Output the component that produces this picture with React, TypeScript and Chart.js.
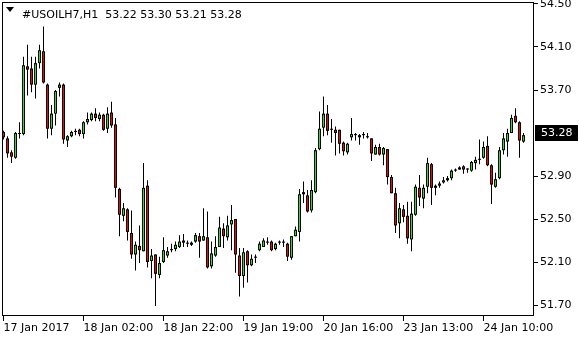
import React, { useEffect, useRef } from 'react';
import { Chart, registerables } from 'chart.js';

Chart.register(...registerables);

// ---- DATA (hourly candles, #USOILH7 H1) ----
const openP = [
  53.31, 53.25, 53.12, 53.07, 53.29, 53.29, 53.92, 53.90, 53.75, 53.95,
  54.06, 53.75, 53.34, 53.48, 53.72, 53.75, 53.23, 53.27, 53.31, 53.33,
  53.29, 53.40, 53.42, 53.48, 53.43, 53.47, 53.34, 53.49, 53.38, 52.78,
  52.53, 52.59, 52.37, 52.17, 52.25, 52.20, 52.81, 52.11, 52.17, 51.98,
  52.10, 52.16, 52.21, 52.22, 52.24, 52.30, 52.27, 52.26, 52.29, 52.34,
  52.30, 52.33, 52.06, 52.16, 52.24, 52.41, 52.33, 52.45, 52.50, 52.16,
  51.97, 52.20, 52.07, 52.14, 52.21, 52.24, 52.28, 52.29, 52.22, 52.28,
  52.28, 52.27, 52.14, 52.34, 52.38, 52.75, 52.72, 52.58, 52.75, 53.15,
  53.35, 53.48, 53.33, 53.33, 53.33, 53.21, 53.12, 53.26, 53.28, 53.28,
  53.28, 53.26, 53.25, 53.10, 53.17, 53.10, 53.15, 52.89, 52.74, 52.46,
  52.59, 52.53, 52.31, 52.54, 52.79, 52.69, 52.80, 53.01, 52.81, 52.81,
  52.84, 52.86, 52.88, 52.95, 52.96, 52.99, 52.96, 52.95, 53.02, 53.05,
  53.07, 53.18, 53.00, 52.80, 52.88, 53.14, 53.22, 53.30, 53.46, 53.40,
  53.22,
];
const highP = [
  53.32, 53.27, 53.14, 53.31, 53.40, 54.01, 54.12, 54.01, 54.01, 54.12,
  54.29, 53.76, 53.56, 53.70, 53.77, 53.76, 53.28, 53.32, 53.34, 53.34,
  53.41, 53.49, 53.49, 53.53, 53.49, 53.48, 53.54, 53.59, 53.44, 52.79,
  52.65, 52.60, 52.58, 52.29, 52.44, 53.02, 52.86, 52.22, 52.17, 52.15,
  52.33, 52.24, 52.27, 52.29, 52.35, 52.36, 52.30, 52.29, 52.37, 52.37,
  52.60, 52.57, 52.29, 52.34, 52.52, 52.46, 52.53, 52.63, 52.50, 52.23,
  52.23, 52.21, 52.17, 52.17, 52.29, 52.32, 52.33, 52.30, 52.28, 52.30,
  52.31, 52.28, 52.34, 52.43, 52.78, 52.85, 52.77, 52.86, 53.16, 53.50,
  53.64, 53.56, 53.43, 53.36, 53.33, 53.22, 53.21, 53.44, 53.30, 53.29,
  53.31, 53.30, 53.25, 53.19, 53.20, 53.17, 53.15, 52.91, 52.79, 52.65,
  52.63, 52.66, 52.66, 52.82, 52.91, 52.82, 53.07, 53.02, 52.82, 52.85,
  52.89, 52.90, 52.96, 52.97, 52.99, 53.00, 52.97, 53.04, 53.08, 53.24,
  53.22, 53.27, 53.01, 52.93, 53.17, 53.30, 53.34, 53.47, 53.53, 53.41,
  53.30,
];
const lowP = [
  53.24, 53.07, 53.02, 53.06, 53.25, 53.28, 53.65, 53.68, 53.62, 53.90,
  53.76, 53.25, 53.28, 53.37, 53.64, 53.20, 53.17, 53.26, 53.28, 53.27,
  53.25, 53.38, 53.41, 53.41, 53.41, 53.32, 53.30, 53.35, 52.70, 52.34,
  52.48, 52.30, 52.13, 52.02, 52.09, 52.20, 52.05, 51.95, 51.69, 51.95,
  52.09, 52.14, 52.19, 52.20, 52.23, 52.24, 52.24, 52.25, 52.28, 52.14,
  52.30, 52.04, 52.04, 52.15, 52.24, 52.23, 52.30, 52.21, 52.00, 51.78,
  51.86, 51.91, 52.06, 52.09, 52.20, 52.24, 52.26, 52.20, 52.21, 52.26,
  52.24, 52.11, 52.12, 52.34, 52.29, 52.65, 52.56, 52.56, 52.74, 53.14,
  53.27, 53.28, 53.21, 53.09, 53.11, 53.09, 53.10, 53.23, 53.23, 53.19,
  53.25, 53.25, 53.04, 53.10, 53.09, 53.00, 52.82, 52.74, 52.37, 52.32,
  52.47, 52.27, 52.20, 52.53, 52.62, 52.60, 52.74, 52.63, 52.72, 52.79,
  52.83, 52.85, 52.86, 52.94, 52.96, 52.92, 52.93, 52.94, 52.96, 53.01,
  53.06, 52.99, 52.64, 52.79, 52.87, 53.10, 53.08, 53.30, 53.39, 53.07,
  53.21,
];
const closeP = [
  53.26, 53.11, 53.08, 53.30, 53.30, 53.93, 53.89, 53.75, 53.95, 54.07,
  53.77, 53.34, 53.48, 53.69, 53.75, 53.24, 53.27, 53.31, 53.32, 53.29,
  53.40, 53.43, 53.48, 53.44, 53.47, 53.33, 53.48, 53.37, 52.79, 52.54,
  52.60, 52.38, 52.17, 52.26, 52.21, 52.79, 52.10, 52.16, 51.99, 52.09,
  52.21, 52.20, 52.22, 52.26, 52.29, 52.28, 52.28, 52.28, 52.35, 52.29,
  52.34, 52.05, 52.18, 52.24, 52.42, 52.34, 52.44, 52.49, 52.17, 51.97,
  52.19, 52.07, 52.13, 52.15, 52.27, 52.30, 52.29, 52.21, 52.27, 52.29,
  52.29, 52.15, 52.34, 52.40, 52.73, 52.73, 52.57, 52.77, 53.14, 53.34,
  53.48, 53.32, 53.34, 53.30, 53.20, 53.13, 53.20, 53.29, 53.29, 53.26,
  53.29, 53.27, 53.11, 53.17, 53.10, 53.16, 52.89, 52.74, 52.44, 52.60,
  52.52, 52.32, 52.55, 52.80, 52.70, 52.79, 53.02, 52.79, 52.79, 52.83,
  52.86, 52.88, 52.95, 52.96, 52.98, 52.96, 52.97, 53.03, 53.05, 53.06,
  53.17, 53.00, 52.82, 52.87, 53.14, 53.25, 53.30, 53.44, 53.40, 53.23,
  53.28,
];

const xTickIndex = [0, 20, 40, 60, 80, 100, 120];
const xTickLabels = [
  '17 Jan 2017',
  '18 Jan 02:00',
  '18 Jan 22:00',
  '19 Jan 19:00',
  '20 Jan 16:00',
  '23 Jan 13:00',
  '24 Jan 10:00',
];
const yTickValues = [54.5, 54.1, 53.7, 52.9, 52.5, 52.1, 51.7];
const symbolName = '#USOILH7,H1';

const FONT = "'DejaVu Sans', Verdana, sans-serif";

export default function App() {
  const canvasRef = useRef<HTMLCanvasElement | null>(null);
  const n = openP.length;
  const headerText = `${symbolName}  ${openP[n - 1].toFixed(2)} ${highP[n - 1].toFixed(2)} ${lowP[n - 1].toFixed(2)} ${closeP[n - 1].toFixed(2)}`;

  useEffect(() => {
    const canvas = canvasRef.current;
    if (!canvas) return;

    const bodies = openP.map((o, i) => ({ x: i, y: [o, closeP[i]] }));
    const wicks = lowP.map((l, i) => ({ x: i, y: [l, highP[i]] }));
    const bodyColors = openP.map((o, i) => (closeP[i] >= o ? '#00ff00' : '#ff0000'));
    const lastClose = closeP[n - 1];

    const framePlugin = {
      id: 'mtFrame',
      afterDraw(chart: any) {
        const { ctx, chartArea: a, scales } = chart;
        ctx.save();
        ctx.strokeStyle = '#000';
        ctx.lineWidth = 1;
        ctx.strokeRect(a.left + 0.5, a.top + 0.5, a.right - a.left - 1, a.bottom - a.top - 1);
        const yc = Math.round(scales.y.getPixelForValue(lastClose)) - 2;
        ctx.fillStyle = '#000';
        ctx.fillRect(a.right + 1, yc - 8, chart.width - a.right - 3, 16);
        ctx.fillStyle = '#fff';
        ctx.font = `11px ${FONT}`;
        ctx.textBaseline = 'middle';
        ctx.textAlign = 'left';
        ctx.fillText(lastClose.toFixed(2), a.right + 7, yc + 0.5);
        ctx.restore();
      },
    };

    const chart = new Chart(canvas, {
      type: 'bar',
      data: {
        datasets: [
          {
            label: 'bodyFill',
            data: bodies as any,
            backgroundColor: bodyColors,
            borderColor: '#000',
            borderWidth: { top: 1, bottom: 1, left: 0, right: 0 },
            borderSkipped: false,
            barThickness: 1,
            maxBarThickness: 1,
            inflateAmount: 0,
            grouped: false,
            order: 0,
          } as any,
          {
            label: 'bodyOutline',
            data: bodies as any,
            backgroundColor: '#000',
            borderWidth: 0,
            barThickness: 3,
            maxBarThickness: 3,
            inflateAmount: 0,
            minBarLength: 1,
            grouped: false,
            order: 1,
          } as any,
          {
            label: 'wick',
            data: wicks as any,
            backgroundColor: '#000',
            borderWidth: 0,
            barThickness: 1,
            maxBarThickness: 1,
            inflateAmount: 0,
            grouped: false,
            order: 2,
          } as any,
        ],
      },
      options: {
        animation: false,
        responsive: false,
        devicePixelRatio: 1,
        layout: { padding: { left: 2, top: 2, right: 0, bottom: 0 } },
        plugins: {
          legend: { display: false },
          tooltip: { enabled: false },
        },
        scales: {
          x: {
            type: 'linear',
            position: 'bottom',
            min: -0.375,
            max: 132.625,
            offset: false,
            grid: {
              display: true,
              offset: false,
              drawOnChartArea: false,
              drawTicks: true,
              tickLength: 5,
              color: '#000',
              lineWidth: 1,
            },
            border: { display: false },
            ticks: {
              autoSkip: false,
              maxRotation: 0,
              minRotation: 0,
              align: 'start',
              padding: 1,
              color: '#000',
              font: { family: FONT, size: 11 },
              callback: (v: any) => {
                const k = xTickIndex.indexOf(Number(v));
                return k >= 0 ? xTickLabels[k] : '';
              },
            },
            afterBuildTicks: (scale: any) => {
              scale.ticks = xTickIndex.map((v) => ({ value: v }));
            },
            afterFit: (scale: any) => {
              scale.height = 24;
              scale.paddingLeft = 0;
              scale.paddingRight = 0;
              scale.paddingTop = 0;
              scale.paddingBottom = 0;
            },
          } as any,
          y: {
            type: 'linear',
            position: 'right',
            min: 51.5977,
            max: 54.5186,
            grid: {
              display: true,
              drawOnChartArea: false,
              drawTicks: true,
              tickLength: 4,
              color: '#000',
              lineWidth: 1,
            },
            border: { display: false },
            ticks: {
              padding: 2,
              color: '#000',
              font: { family: FONT, size: 11 },
              callback: (v: any) => Number(v).toFixed(2),
            },
            afterBuildTicks: (scale: any) => {
              scale.ticks = yTickValues.map((v) => ({ value: v }));
            },
            afterFit: (scale: any) => {
              scale.width = 46;
              scale.paddingLeft = 0;
              scale.paddingRight = 0;
              scale.paddingTop = 0;
              scale.paddingBottom = 0;
            },
          } as any,
        },
      },
      plugins: [framePlugin],
    });

    return () => {
      chart.destroy();
    };
  }, []);

  return (
    <div
      style={{
        position: 'absolute',
        left: 0,
        top: 0,
        width: 580,
        height: 340,
        background: '#fff',
        overflow: 'hidden',
      }}
    >
      <canvas ref={canvasRef} width={580} height={340} style={{ display: 'block', width: 580, height: 340 }} />
      <div
        style={{
          position: 'absolute',
          left: 6,
          top: 7,
          width: 0,
          height: 0,
          borderLeft: '4px solid transparent',
          borderRight: '4px solid transparent',
          borderTop: '5px solid #000',
        }}
      />
      <div
        style={{
          position: 'absolute',
          left: 22,
          top: 8,
          fontFamily: FONT,
          fontSize: 11,
          lineHeight: '13px',
          color: '#000',
          whiteSpace: 'pre',
        }}
      >
        {headerText}
      </div>
    </div>
  );
}
